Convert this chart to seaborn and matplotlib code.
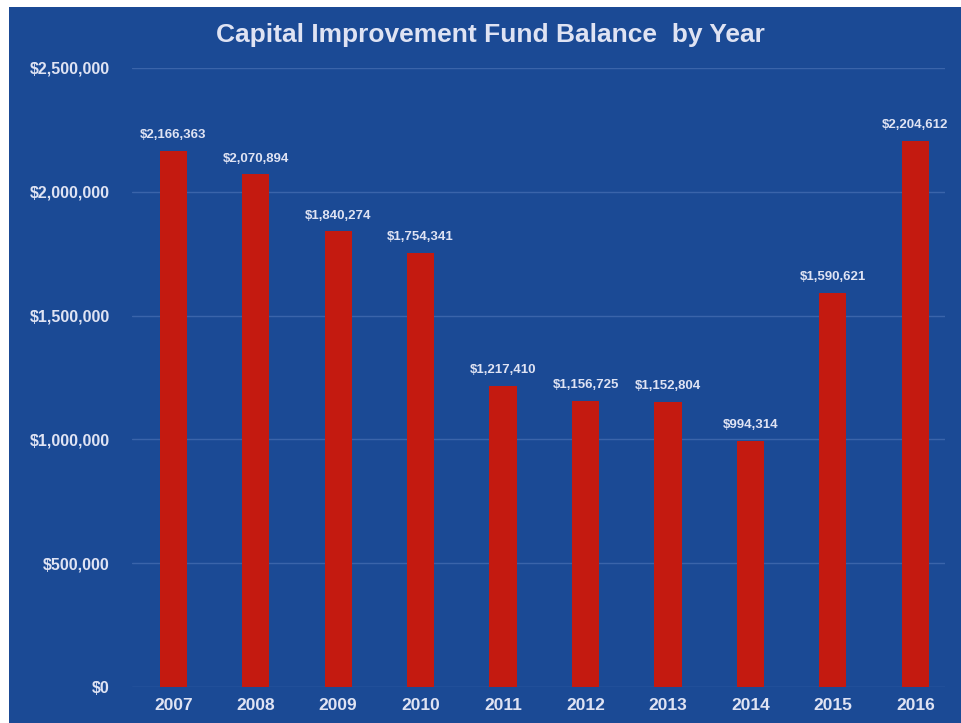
import matplotlib
matplotlib.use("Agg")
import matplotlib.pyplot as plt
import matplotlib.patches as mpatches
from matplotlib.ticker import FuncFormatter
import seaborn as sns
import pandas as pd

# Fund balance at year end
years = ["2007", "2008", "2009", "2010", "2011", "2012", "2013", "2014", "2015", "2016"]
balances = [2166363, 2070894, 1840274, 1754341, 1217410, 1156725, 1152804, 994314, 1590621, 2204612]
y_ticks = [0, 500000, 1000000, 1500000, 2000000, 2500000]

BG = "#1b4a95"
BAR = "#c41a10"
TXT = "#dfe3f3"
GRID = "#3a64aa"

sns.set_theme(style="white")
plt.rcParams["font.family"] = ["Liberation Sans", "DejaVu Sans"]
plt.rcParams["font.weight"] = "bold"

df = pd.DataFrame({"year": years, "balance": balances})

fig = plt.figure(figsize=(9.61, 7.23), dpi=100, facecolor="white")
# blue panel behind the chart
fig.patches.append(mpatches.Rectangle((9 / 961, 0), 1, 1 - 7 / 723,
                                      transform=fig.transFigure, facecolor=BG,
                                      edgecolor="none", zorder=-10))

ax = fig.add_axes([132 / 961, 1 - 687 / 723, (945 - 132) / 961, (687 - 68) / 723])
ax.set_zorder(1)
ax.set_facecolor("none")

sns.barplot(data=df, x="year", y="balance", color=BAR, width=0.33,
            saturation=1, linewidth=0, ax=ax, zorder=3)

ax.set_ylim(0, 2500000)
ax.set_xlim(-0.5, 9.36)
ax.set_yticks(y_ticks)
ax.yaxis.set_major_formatter(FuncFormatter(lambda v, p: f"${v:,.0f}"))
ax.grid(axis="y", color=GRID, linewidth=1.0, zorder=0)
ax.grid(axis="x", visible=False)
for s in ax.spines.values():
    s.set_visible(False)

ax.tick_params(axis="y", colors=TXT, labelsize=11.5, length=0, pad=16)
ax.tick_params(axis="x", colors=TXT, labelsize=12.5, length=0, pad=8)
for lab in ax.get_xticklabels() + ax.get_yticklabels():
    lab.set_fontweight("bold")
ax.set_xlabel("")
ax.set_ylabel("")

for i, v in enumerate(balances):
    ax.annotate(f"${v:,.0f}", (i, v), xytext=(0, 7), textcoords="offset points",
                ha="center", va="bottom", color=TXT, fontsize=9.5, fontweight="bold")

fig.text(490 / 961, 1 - 35 / 723, "Capital Improvement Fund Balance  by Year",
         ha="center", va="center", color=TXT, fontsize=19, fontweight="bold")

fig.savefig("out.png", dpi=100, facecolor=fig.get_facecolor())
